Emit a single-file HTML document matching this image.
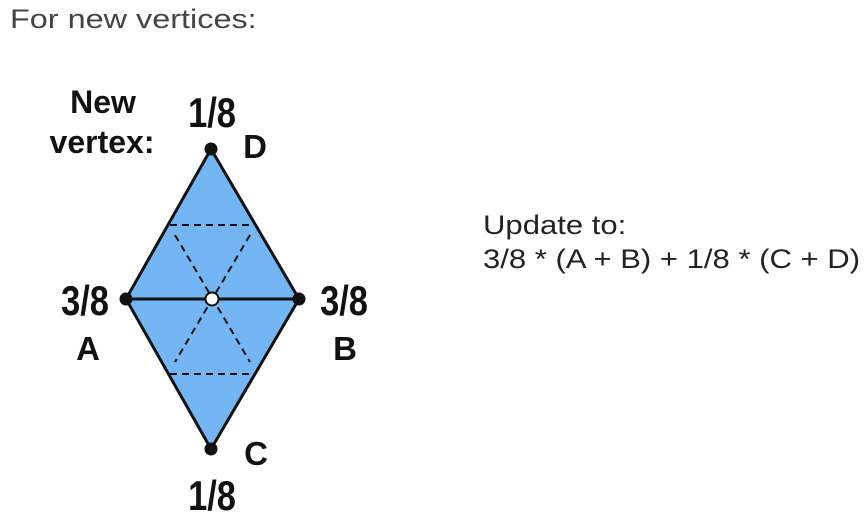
<!DOCTYPE html>
<html><head><style>
body{margin:0;width:868px;height:529px;background:#fff;overflow:hidden;position:relative;font-family:"Liberation Sans",sans-serif}
.t{position:absolute;white-space:nowrap;transform-origin:0 0}
</style></head><body>
<div class="t" style="left:10px;top:4px;font-size:27px;color:#444;transform:scaleX(1.2)">For new vertices:</div>
<div class="t" style="left:483px;top:208px;font-size:27px;color:#222;line-height:34px;transform:scaleX(1.15)">Update to:<br>3/8 * (A + B) + 1/8 * (C + D)</div>
<svg width="868" height="529" style="position:absolute;left:0;top:0">
<polygon points="211,149 299,299 211,449 126,299" fill="#74b5f3" stroke="#111" stroke-width="3" stroke-linejoin="round"/>
<line x1="126" y1="299" x2="299" y2="299" stroke="#111" stroke-width="3"/>
<g stroke="#111" stroke-width="2" stroke-dasharray="7,5" fill="none">
<line x1="170" y1="225" x2="253" y2="225"/>
<line x1="170" y1="374" x2="253" y2="374"/>
<line x1="175" y1="235" x2="250" y2="362"/>
<line x1="250" y1="235" x2="175" y2="362"/>
</g>
<circle cx="211" cy="149" r="6.5" fill="#111"/>
<circle cx="211" cy="449" r="6.5" fill="#111"/>
<circle cx="126" cy="299" r="6.5" fill="#111"/>
<circle cx="299" cy="299" r="6.5" fill="#111"/>
<circle cx="212" cy="299" r="6.5" fill="#fff" stroke="#111" stroke-width="2"/>
<g font-family="Liberation Sans, sans-serif" font-weight="bold" fill="#111" text-anchor="middle">
<text x="103" y="113" font-size="32">New</text>
<text x="102" y="153" font-size="32">vertex:</text>
<text transform="translate(212,127) scale(0.82,1)" font-size="42">1/8</text>
<text x="255" y="158" font-size="33">D</text>
<text transform="translate(85,315) scale(0.82,1)" font-size="42">3/8</text>
<text x="88" y="360" font-size="33">A</text>
<text transform="translate(344,315) scale(0.82,1)" font-size="42">3/8</text>
<text x="345" y="360" font-size="33">B</text>
<text x="256" y="465" font-size="33">C</text>
<text transform="translate(212,510) scale(0.82,1)" font-size="42">1/8</text>
</g>
</svg>
</body></html>
